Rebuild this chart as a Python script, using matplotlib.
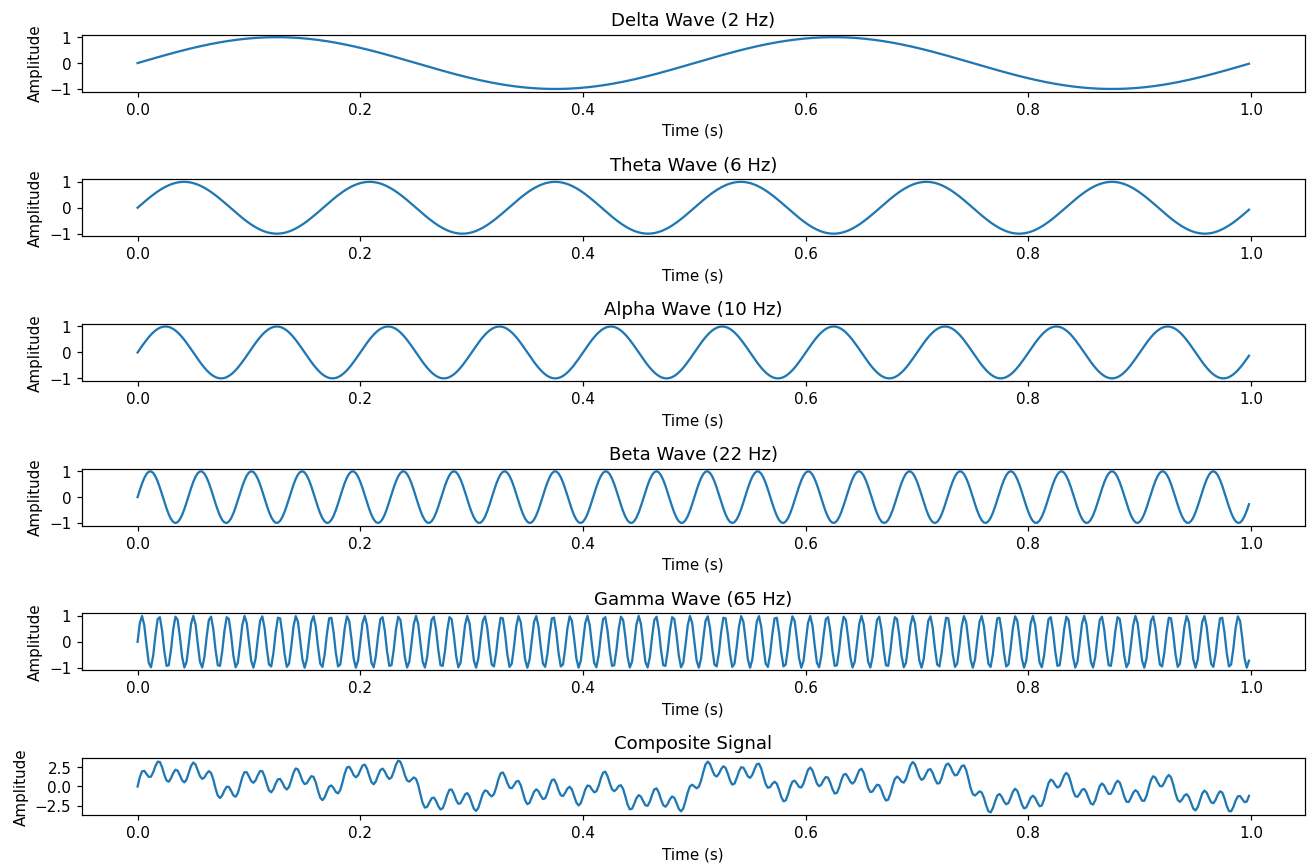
import numpy as np
import matplotlib.pyplot as plt

# EEG bands and their frequencies (Hz)
band_names = ["Delta", "Theta", "Alpha", "Beta", "Gamma"]
band_freqs = [2, 6, 10, 22, 65]

fs = 500
t = np.arange(0, 1, 1 / fs)

waves = [np.sin(2 * np.pi * f * t) for f in band_freqs]
composite = np.sum(waves, axis=0)

fig, axes = plt.subplots(6, 1, figsize=(12.06, 7.94))

for ax, name, f, w in zip(axes, band_names, band_freqs, waves):
    ax.plot(t, w)
    ax.set_title(f"{name} Wave ({f} Hz)")
    ax.set_xlabel("Time (s)")
    ax.set_ylabel("Amplitude")

axes[-1].plot(t, composite)
axes[-1].set_title("Composite Signal")
axes[-1].set_xlabel("Time (s)")
axes[-1].set_ylabel("Amplitude")

plt.subplots_adjust(left=0.0624, right=0.9924, top=0.9595, bottom=0.0578, hspace=1.54)
plt.savefig("out.png", dpi=109)
